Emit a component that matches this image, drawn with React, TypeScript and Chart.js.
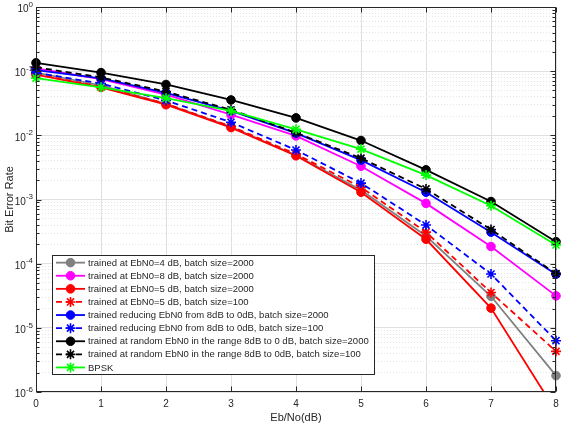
import { useEffect, useRef } from 'react';
import { Chart, registerables } from 'chart.js';

Chart.register(...registerables);

const FONT = '"Liberation Sans", Arial, Helvetica, sans-serif';
const TEXT = '#262626';

// Eb/No (dB)
const ebNo = [0, 1, 2, 3, 4, 5, 6, 7, 8];

const seriesLabels = [
  'trained at EbN0=4 dB, batch size=2000',
  'trained at EbN0=8 dB, batch size=2000',
  'trained at EbN0=5 dB, batch size=2000',
  'trained at EbN0=5 dB, batch size=100',
  'trained reducing EbN0 from 8dB to 0dB, batch size=2000',
  'trained reducing EbN0 from 8dB to 0dB, batch size=100',
  'trained at random EbN0 in the range 8dB to 0 dB, batch size=2000',
  'trained at random EbN0 in the range 8dB to 0dB, batch size=100',
  'BPSK',
];

const berEbN0_4_bs2000 = [0.095, 0.06, 0.031, 0.0136, 0.0049, 0.0014, 0.00027, 0.000031, 0.0000018];
const berEbN0_8_bs2000 = [0.11, 0.075, 0.043, 0.021, 0.0098, 0.0033, 0.00087, 0.000185, 0.0000315];
const berEbN0_5_bs2000 = [0.088, 0.056, 0.030, 0.0132, 0.0048, 0.0013, 0.00024, 0.0000203, 0.0000005];
const berEbN0_5_bs100 = [0.09, 0.057, 0.031, 0.0138, 0.0051, 0.00155, 0.00031, 0.0000355, 0.0000043];
const berReducing_bs2000 = [0.104, 0.077, 0.046, 0.024, 0.0108, 0.0041, 0.0013, 0.00031, 0.0000686];
const berReducing_bs100 = [0.095, 0.064, 0.035, 0.016, 0.0059, 0.0018, 0.0004, 0.000069, 0.0000063];
const berRandom_bs2000 = [0.135, 0.095, 0.062, 0.0356, 0.0187, 0.0083, 0.0029, 0.00093, 0.00022];
const berRandom_bs100 = [0.115, 0.08, 0.048, 0.025, 0.011, 0.0044, 0.00146, 0.00034, 0.00007];
const berBPSK = [0.078, 0.056, 0.038, 0.024, 0.0124, 0.0061, 0.0024, 0.0008, 0.000196];

const seriesValues = [
  berEbN0_4_bs2000,
  berEbN0_8_bs2000,
  berEbN0_5_bs2000,
  berEbN0_5_bs100,
  berReducing_bs2000,
  berReducing_bs100,
  berRandom_bs2000,
  berRandom_bs100,
  berBPSK,
];
const seriesColors = ['#808080', '#ff00ff', '#ff0000', '#ff0000', '#0000ff', '#0000ff', '#000000', '#000000', '#00ff00'];
const seriesDashed = [false, false, false, true, false, true, false, true, false];
const seriesMarker = ['circle', 'circle', 'circle', 'star', 'circle', 'star', 'circle', 'star', 'star'];

const xTicks = [0, 1, 2, 3, 4, 5, 6, 7, 8];
const yDecadeExponents = [0, -1, -2, -3, -4, -5, -6];
const yMinorMultipliers = [1, 2, 3, 4, 5, 6, 7, 8, 9];

const xTitle = 'Eb/No(dB)';
const yTitle = 'Bit Error Rate';

const DASH = [6, 4];

function isMajor(v: number) {
  const l = Math.log10(v);
  return Math.abs(l - Math.round(l)) < 1e-9;
}

function drawMarker(ctx: CanvasRenderingContext2D, style: string, x: number, y: number, color: string) {
  ctx.save();
  ctx.setLineDash([]);
  if (style === 'circle') {
    ctx.beginPath();
    ctx.arc(x, y, 4.3, 0, Math.PI * 2);
    ctx.fillStyle = color;
    ctx.fill();
    ctx.lineWidth = 1;
    ctx.strokeStyle = color;
    ctx.stroke();
  } else {
    const r = 5;
    ctx.beginPath();
    for (let k = 0; k < 4; k++) {
      const a = (k * Math.PI) / 4;
      ctx.moveTo(x - Math.cos(a) * r, y - Math.sin(a) * r);
      ctx.lineTo(x + Math.cos(a) * r, y + Math.sin(a) * r);
    }
    ctx.lineWidth = 1.6;
    ctx.strokeStyle = color;
    ctx.stroke();
  }
  ctx.restore();
}

const framePlugin = {
  id: 'matlabFrame',
  afterDraw(chart: any) {
    const ctx: CanvasRenderingContext2D = chart.ctx;
    const { left, right, top, bottom } = chart.chartArea;
    const xs = chart.scales.x;
    const ys = chart.scales.y;
    ctx.save();
    // frame
    ctx.strokeStyle = TEXT;
    ctx.lineWidth = 1;
    ctx.setLineDash([]);
    const L = Math.round(left) + 0.5;
    const R = Math.round(right) - 0.5;
    const T = Math.round(top) + 0.5;
    const B = Math.round(bottom) - 0.5;
    ctx.strokeRect(L, T, R - L, B - T);
    // inward ticks
    ctx.beginPath();
    xTicks.forEach((v) => {
      const px = Math.round(xs.getPixelForValue(v)) + 0.5;
      ctx.moveTo(px, B);
      ctx.lineTo(px, B - 5);
      ctx.moveTo(px, T);
      ctx.lineTo(px, T + 5);
    });
    yDecadeExponents.forEach((e) => {
      yMinorMultipliers.forEach((m) => {
        const v = m * Math.pow(10, e);
        if (v > 1 + 1e-12) return;
        const py = Math.round(ys.getPixelForValue(v)) + 0.5;
        const len = m === 1 ? 5 : 3;
        ctx.moveTo(L, py);
        ctx.lineTo(L + len, py);
        ctx.moveTo(R, py);
        ctx.lineTo(R - len, py);
      });
    });
    ctx.stroke();

    // y tick labels with superscript exponents
    ctx.fillStyle = TEXT;
    ctx.textBaseline = 'middle';
    yDecadeExponents.forEach((e) => {
      const py = ys.getPixelForValue(Math.pow(10, e));
      const expStr = String(e);
      ctx.font = `8px ${FONT}`;
      const ew = ctx.measureText(expStr).width;
      const rightEdge = left - 3;
      ctx.textAlign = 'left';
      ctx.fillText(expStr, rightEdge - ew, py - 2.5);
      ctx.font = `10px ${FONT}`;
      ctx.textAlign = 'right';
      ctx.fillText('10', rightEdge - ew, py + 2.5);
    });

    // y title
    ctx.save();
    ctx.translate(10, (top + bottom) / 2);
    ctx.rotate(-Math.PI / 2);
    ctx.font = `11px ${FONT}`;
    ctx.textAlign = 'center';
    ctx.textBaseline = 'middle';
    ctx.fillText(yTitle, 0, 0);
    ctx.restore();

    // legend
    ctx.font = `9.5px ${FONT}`;
    let maxW = 0;
    seriesLabels.forEach((s) => {
      maxW = Math.max(maxW, ctx.measureText(s).width);
    });
    const rowH = 13.1;
    const boxL = left + 16;
    const boxB = bottom - 18;
    const boxH = rowH * seriesLabels.length + 1;
    const boxT = boxB - boxH;
    const textX = boxL + 36;
    const boxR = textX + maxW + 5;
    ctx.fillStyle = '#ffffff';
    ctx.fillRect(boxL, boxT, boxR - boxL, boxH);
    ctx.strokeStyle = TEXT;
    ctx.lineWidth = 1;
    ctx.strokeRect(Math.round(boxL) + 0.5, Math.round(boxT) + 0.5, Math.round(boxR - boxL), Math.round(boxH));
    seriesLabels.forEach((s, i) => {
      const cy = boxT + 1 + rowH * (i + 0.5);
      const color = seriesColors[i];
      ctx.save();
      ctx.strokeStyle = color;
      ctx.lineWidth = 1.8;
      ctx.setLineDash(seriesDashed[i] ? DASH : []);
      ctx.beginPath();
      ctx.moveTo(boxL + 4, cy);
      ctx.lineTo(boxL + 33, cy);
      ctx.stroke();
      ctx.restore();
      drawMarker(ctx, seriesMarker[i], boxL + 18.5, cy, color);
      ctx.fillStyle = TEXT;
      ctx.textAlign = 'left';
      ctx.textBaseline = 'middle';
      ctx.font = `9.5px ${FONT}`;
      ctx.fillText(s, textX, cy + 0.5);
    });
    ctx.restore();
  },
};

export default function App() {
  const ref = useRef<HTMLCanvasElement>(null);
  useEffect(() => {
    const datasets = seriesLabels.map((label, i) => ({
      label,
      data: ebNo.map((x, j) => ({ x, y: seriesValues[i][j] })),
      borderColor: seriesColors[i],
      backgroundColor: seriesColors[i],
      borderWidth: 1.8,
      borderDash: seriesDashed[i] ? DASH : [],
      pointStyle: seriesMarker[i],
      pointRadius: seriesMarker[i] === 'circle' ? 4.3 : 5,
      pointBorderWidth: seriesMarker[i] === 'circle' ? 1 : 1.6,
      pointBackgroundColor: seriesColors[i],
      pointBorderColor: seriesColors[i],
      fill: false,
      tension: 0,
      order: seriesLabels.length - i,
      clip: { left: 10, right: 10, top: 10, bottom: 0 },
    }));
    const chart = new Chart(ref.current as HTMLCanvasElement, {
      type: 'line',
      data: { datasets } as any,
      options: {
        animation: false,
        responsive: true,
        maintainAspectRatio: false,
        layout: { padding: { left: 36, right: 14, top: 7, bottom: 2 } },
        plugins: { legend: { display: false }, tooltip: { enabled: false } },
        scales: {
          x: {
            type: 'linear',
            min: 0,
            max: 8,
            afterBuildTicks: (scale: any) => {
              scale.ticks = xTicks.map((v) => ({ value: v }));
            },
            afterFit: (scale: any) => {
              scale.height = 33;
            },
            ticks: { color: TEXT, font: { size: 10, family: FONT }, padding: 6, maxRotation: 0 },
            grid: { drawTicks: false, color: '#dfdfdf', lineWidth: 1 },
            border: { display: false },
            title: { display: true, text: xTitle, color: TEXT, font: { size: 11, family: FONT }, padding: { top: 2, bottom: 0 } },
          },
          y: {
            type: 'logarithmic',
            min: 1e-6,
            max: 1,
            afterBuildTicks: (scale: any) => {
              const t: { value: number }[] = [];
              yDecadeExponents.forEach((e) => {
                yMinorMultipliers.forEach((m) => {
                  const v = m * Math.pow(10, e);
                  if (v <= 1 + 1e-12) t.push({ value: v });
                });
              });
              scale.ticks = t;
            },
            ticks: { display: false },
            grid: {
              drawTicks: false,
              lineWidth: 1,
              color: (c: any) => (c.tick && !isMajor(c.tick.value) ? '#e4e4e4' : '#dfdfdf'),
            },
            border: {
              display: false,
              dash: (c: any) => (c.tick && !isMajor(c.tick.value) ? [1, 2] : []),
            },
          },
        },
      } as any,
      plugins: [framePlugin],
    });
    return () => chart.destroy();
  }, []);
  return (
    <div style={{ position: 'absolute', left: 0, top: 0, width: 570, height: 427, background: '#fff' }}>
      <canvas ref={ref} />
    </div>
  );
}
